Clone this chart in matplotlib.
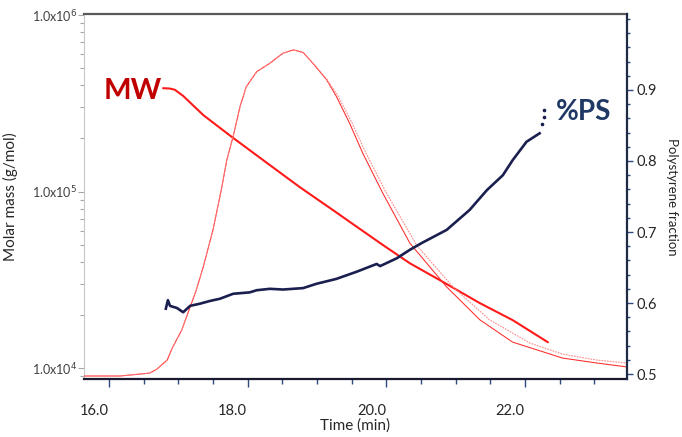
import matplotlib
matplotlib.use('Agg')
import matplotlib.pyplot as plt
import matplotlib.transforms as mtransforms
from matplotlib.ticker import FixedLocator, FixedFormatter, MultipleLocator, LogLocator, NullFormatter, FormatStrFormatter

plt.rcParams['font.family'] = ['Lato', 'DejaVu Sans']

# Molar mass (MW) trace
mw_time = [16.78, 16.88, 16.95, 17.07, 17.36, 17.77, 18.28, 18.75, 19.23, 19.47,
           19.95, 20.34, 20.77, 21.35, 21.82, 22.33]
mw_value = [385e3, 383e3, 377e3, 348e3, 271e3, 204e3, 145e3, 106e3, 78.5e3, 67.4e3,
            49.8e3, 39.2e3, 31.5e3, 23.3e3, 18.7e3, 14.0e3]

# Polystyrene fraction (%PS) trace
ps_time = [16.82, 16.85, 16.88, 16.98, 17.07, 17.17, 17.31, 17.46, 17.60, 17.79, 18.03,
           18.13, 18.32, 18.51, 18.80, 18.99, 19.28, 19.57, 19.86, 19.91, 20.15, 20.34,
           20.52, 20.87, 21.20, 21.45, 21.68, 21.82, 22.02, 22.21]
ps_fraction = [0.592, 0.604, 0.596, 0.593, 0.587, 0.596, 0.599, 0.603, 0.606, 0.613, 0.615,
               0.618, 0.620, 0.619, 0.621, 0.627, 0.634, 0.644, 0.655, 0.652, 0.663, 0.675,
               0.685, 0.703, 0.731, 0.759, 0.780, 0.801, 0.827, 0.839]
ps_tail_time = [22.25, 22.27, 22.28]
ps_tail_fraction = [0.852, 0.862, 0.872]

# Detector signal (normalised), two traces
sig_time = [15.64, 16.16, 16.45, 16.59, 16.69, 16.84, 16.92, 17.05, 17.26, 17.36, 17.50,
            17.62, 17.70, 17.79, 17.89, 17.98, 18.13, 18.32, 18.51, 18.66, 18.80, 18.94,
            19.14, 19.28, 19.47, 19.66, 19.95, 20.34, 20.87, 21.35, 21.82, 22.54, 23.03,
            23.46]
sig_a = [0.0, 0.0, 0.006, 0.009, 0.021, 0.049, 0.089, 0.141, 0.264, 0.335, 0.448,
         0.571, 0.663, 0.734, 0.826, 0.887, 0.933, 0.959, 0.990, 1.0, 0.992, 0.959,
         0.908, 0.857, 0.775, 0.683, 0.560, 0.407, 0.273, 0.172, 0.104, 0.055, 0.040,
         0.028]
sig_b_time = [15.64, 16.16, 16.45, 16.59, 16.69, 16.84, 16.92, 17.05, 17.26, 17.36, 17.50,
              17.62, 17.70, 17.79, 17.89, 17.98, 18.13, 18.32, 18.51, 18.66, 18.80, 18.94,
              19.14, 19.30, 19.50, 19.70, 19.99, 20.44, 20.96, 21.49, 22.07, 22.54, 23.03,
              23.46]
sig_b = [0.0, 0.0, 0.006, 0.009, 0.021, 0.049, 0.089, 0.141, 0.264, 0.335, 0.448,
         0.571, 0.663, 0.734, 0.826, 0.887, 0.933, 0.959, 0.990, 1.0, 0.992, 0.960,
         0.910, 0.860, 0.778, 0.686, 0.565, 0.400, 0.273, 0.172, 0.101, 0.067, 0.049,
         0.040]

x_major = [16.0, 18.0, 20.0, 22.0]
y_left_major = [1e4, 1e5, 1e6]
y_left_labels = [r'1.0x10$^{4}$', r'1.0x10$^{5}$', r'1.0x10$^{6}$']
y_right_major = [0.5, 0.6, 0.7, 0.8, 0.9]

W, H = 682, 437
fig = plt.figure(figsize=(W / 100, H / 100), dpi=100)
ax = fig.add_axes([84 / W, 58 / H, 543 / W, 365 / H])
ax3 = ax.twinx()
ax2 = ax.twinx()

# signal traces
ax3.plot(sig_time, sig_a, color='#ff2a2a', lw=0.75, zorder=2)
ax3.plot(sig_b_time, sig_b, color='#ff8a8a', lw=0.8, ls=(0, (1.5, 1)), zorder=2)
ax3.set_ylim(-0.0092, 1.110)
ax3.axis('off')

# MW
ax.plot(mw_time, mw_value, color='#ff1a1a', lw=1.5, solid_capstyle='round')
ax.set_yscale('log')
ax.set_xlim(15.64, 23.47)
ax.set_ylim(8670, 1.013e6)

# %PS
ax2.plot(ps_time, ps_fraction, color='#1b1f4f', lw=1.9)
ax2.plot(ps_tail_time, ps_tail_fraction, ls='none', marker='o', ms=1.6, color='#1b1f4f')
ax2.set_ylim(0.493, 1.007)

# x axis
ax.xaxis.set_major_locator(FixedLocator(x_major))
ax.xaxis.set_major_formatter(FormatStrFormatter('%.1f'))
ax.xaxis.set_minor_locator(MultipleLocator(0.5))
ax.tick_params(axis='x', which='major', direction='out', length=6, width=1, color='#2e4a7d',
               labelsize=10.5, labelcolor='#262626', pad=12)
ax.tick_params(axis='x', which='minor', direction='out', length=3.5, width=1, color='#2e4a7d')
for lbl in ax.get_xticklabels():
    lbl.set_transform(lbl.get_transform() + mtransforms.ScaledTranslation(-15 / 100, 0, fig.dpi_scale_trans))

# left y axis
ax.yaxis.set_major_locator(FixedLocator(y_left_major))
ax.yaxis.set_major_formatter(FixedFormatter(y_left_labels))
ax.yaxis.set_minor_locator(LogLocator(base=10, subs=[2, 3, 4, 5, 6, 7, 8, 9]))
ax.yaxis.set_minor_formatter(NullFormatter())
ax.tick_params(axis='y', which='major', direction='out', length=4, width=0.8, color='#a6a6a6',
               labelsize=9, labelcolor='#404040', pad=1)
ax.tick_params(axis='y', which='minor', direction='out', length=3, width=0.8, color='#a6a6a6')

# right y axis
ax2.yaxis.set_major_locator(FixedLocator(y_right_major))
ax2.yaxis.set_major_formatter(FormatStrFormatter('%.1f'))
ax2.yaxis.set_minor_locator(MultipleLocator(0.02))
ax2.tick_params(axis='y', which='major', direction='out', length=4, width=1, color='#2e4a7d',
                labelsize=10.5, labelcolor='#262626', pad=3)
ax2.tick_params(axis='y', which='minor', direction='out', length=2.5, width=1, color='#2e4a7d')

# spines
ax.spines['top'].set_color('#595959')
ax.spines['top'].set_linewidth(1.6)
ax.spines['left'].set_color('#c8c8c8')
ax.spines['left'].set_linewidth(0.8)
ax.spines['bottom'].set_color('#1a1a2e')
ax.spines['bottom'].set_linewidth(1.6)
ax.spines['right'].set_visible(False)
for s in ['top', 'left', 'bottom']:
    ax2.spines[s].set_visible(False)
ax2.spines['right'].set_color('#1f2a44')
ax2.spines['right'].set_linewidth(1.6)

# labels
ax.set_ylabel('Molar mass (g/mol)', fontsize=11, color='#262626')
ax.yaxis.set_label_coords(-0.1215, 0.5)
ax2.set_ylabel('Polystyrene fraction', rotation=270, fontsize=9.5, color='#262626', va='center')
ax2.yaxis.set_label_coords(1.083, 0.5)
ax.set_xlabel('Time (min)', fontsize=11, color='#262626')
ax.xaxis.set_label_coords(0.499, -0.108)

ax.text(0.0368, 0.767, 'MW', transform=ax.transAxes, fontsize=21, fontweight='bold',
        color='#c00000', va='baseline', ha='left')
ax2.text(0.869, 0.7096, '%PS', transform=ax.transAxes, fontsize=20, fontweight='bold',
         color='#1f3864', va='baseline', ha='left')

fig.savefig('out.png', dpi=100)
